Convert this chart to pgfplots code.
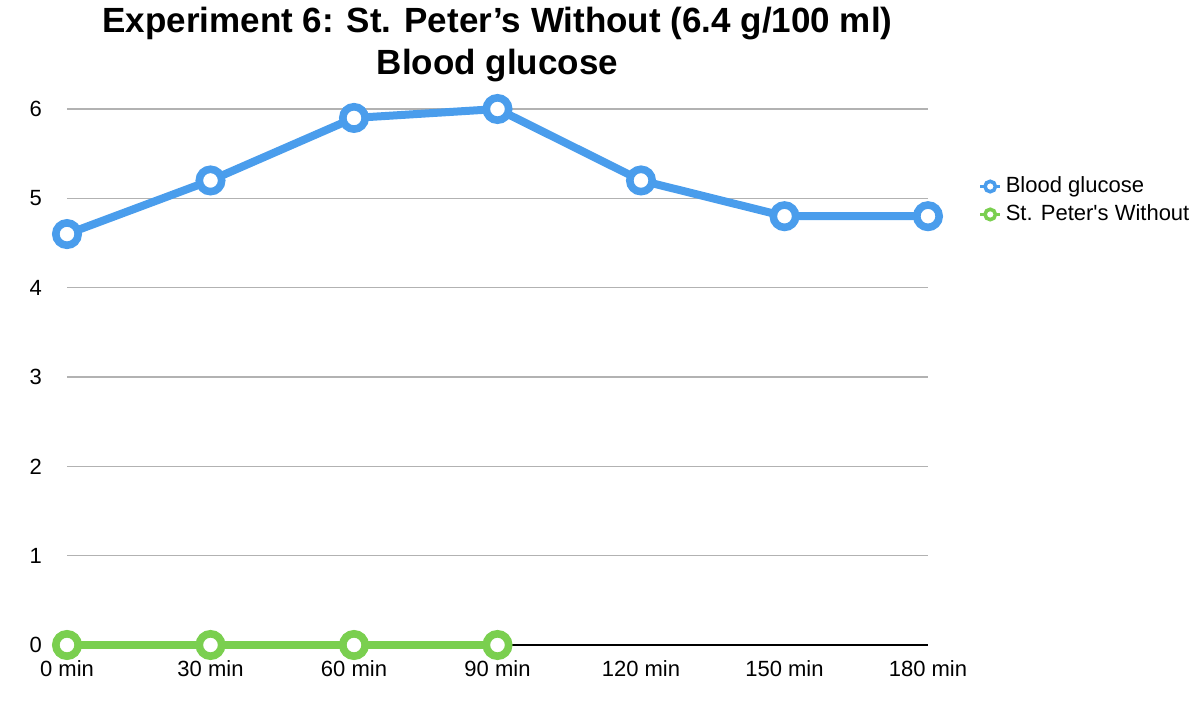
\documentclass[border=0pt]{standalone}
\usepackage{fontspec}
\setmainfont{Liberation Sans}
\usepackage{pgfplots}
\pgfplotsset{compat=1.18}
\definecolor{bgblue}{HTML}{4A9DEC}
\definecolor{spgreen}{HTML}{7ACF4F}

\begin{document}
\begin{tikzpicture}
\begin{axis}[
    at={(0,0)}, anchor=south west,
    scale only axis,
    width=430.5pt, height=268pt,
    xmin=0, xmax=6, ymin=0, ymax=6,
    xtick={0,...,6},
    xticklabels={0 min,30 min,60 min,90 min,120 min,150 min,180 min},
    ytick={0,...,6},
    /pgf/number format/assume math mode=true,
    tick label style={font=\fontsize{11}{13}\selectfont},
    xticklabel style={yshift=-4pt},
    yticklabel style={xshift=-9pt},
    major tick length=0pt,
    axis x line*=bottom, axis y line*=left,
    separate axis lines,
    x axis line style={black, line width=0.8pt, -},
    y axis line style={draw=none},
    ymajorgrids,
    grid style={black!30, line width=0.8pt},
    clip=false,
    legend cell align=left,
    legend style={at={(1.056,0.885)}, anchor=north west, draw=none, fill=none,
        font=\fontsize{11}{13}\selectfont, row sep=0.5pt, inner sep=1pt},
    legend image code/.code={
        \draw[#1, mark=none, line width=1.6pt] (1pt,0pt) -- (11pt,0pt);
        \draw[#1, only marks, mark size=2.6pt, mark options={fill=white, line width=1.8pt}]
            plot coordinates {(6pt,0pt)};
    },
]
\addplot[bgblue, line width=4pt, mark=*, mark size=5.6pt,
    mark options={fill=white, line width=3.8pt}]
    coordinates {(0,4.6) (1,5.2) (2,5.9) (3,6.0) (4,5.2) (5,4.8) (6,4.8)};
\addlegendentry{Blood glucose}
\addplot[spgreen, line width=4pt, mark=*, mark size=5.6pt,
    mark options={fill=white, line width=3.8pt}]
    coordinates {(0,0) (1,0) (2,0) (3,0)};
\addlegendentry{St. Peter\textquotesingle s Without}
\end{axis}
\node[font=\bfseries\fontsize{17.5}{21}\selectfont, align=center] at (215.25pt,300pt)
    {Experiment 6: St. Peter’s Without (6.4 g/100 ml)\\Blood glucose};
\path[use as bounding box] (-33.5pt,-28pt) rectangle (566.5pt,322.5pt);
\end{tikzpicture}
\end{document}
